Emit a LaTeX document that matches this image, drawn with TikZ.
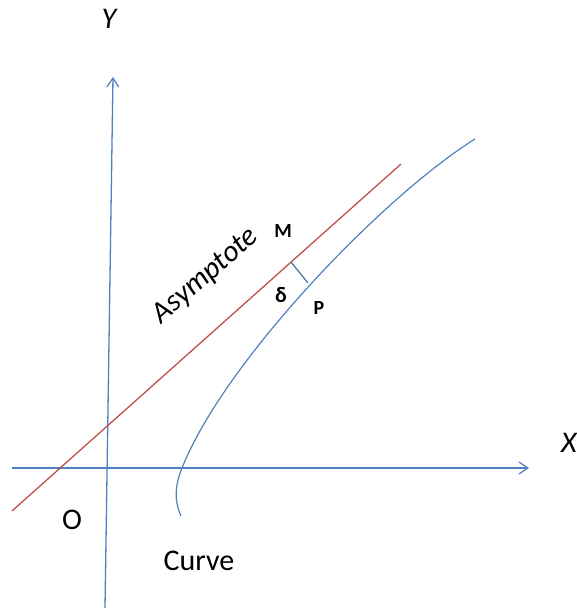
\documentclass[tikz,border=0pt]{standalone}
\usepackage{fontspec}
\setmainfont{Carlito}
\usetikzlibrary{arrows.meta}
\definecolor{axisblue}{RGB}{79,129,189}
\definecolor{asyred}{RGB}{192,80,77}
\definecolor{perpblue}{RGB}{70,110,160}
\begin{document}
\begin{tikzpicture}[x=1pt,y=-1pt,
  axis/.style={draw=axisblue,line width=1.3pt,-{Straight Barb[length=9pt,width=12pt,line width=1.2pt]}},
  asy/.style={draw=asyred,line width=1.3pt},
  crv/.style={draw=axisblue,line width=1.2pt},
  perp/.style={draw=perpblue,line width=1.2pt},
  big/.style={inner sep=0pt,font=\fontsize{30}{34}\selectfont},
  bigit/.style={inner sep=0pt,font=\fontsize{30}{34}\selectfont\itshape},
  small/.style={inner sep=0pt,font=\fontsize{20}{24}\selectfont\bfseries}]
\useasboundingbox (0,0) rectangle (577,608);
\coordinate (xs) at (12,468); \coordinate (xe) at (529,468);
\coordinate (ys) at (105,608); \coordinate (ye) at (113,77);
\draw[axis] (xs) -- (xe);
\draw[axis] (ys) -- (ye);
\coordinate (as) at (12,511); \coordinate (ae) at (401,164);
\draw[asy] (as) -- (ae);
\coordinate (c0) at (181,516); \coordinate (c1) at (182,468); \coordinate (c2) at (475,139);
\draw[crv] (c0) .. controls (173,498) and (176,483) .. (c1)
  .. controls (225,360) and (385,195) .. (c2);
\coordinate (M) at (291,262); \coordinate (P) at (308,283);
\draw[perp] (M) -- (P);
\node[bigit] (ylab) at (109,19) {Y};
\node[bigit] (xlab) at (569,443) {X};
\node[big] (olab) at (72,520) {O};
\node[big] (clab) at (199,561) {Curve};
\node[bigit,rotate=41] (alab) at (206,276) {Asymptote};
\node[small] (mlab) at (283,231) {M};
\node[small] (plab) at (319,308) {P};
\node[small,font=\fontsize{22}{26}\selectfont\bfseries] (dlab) at (281,295) {δ};
\end{tikzpicture}
\end{document}
